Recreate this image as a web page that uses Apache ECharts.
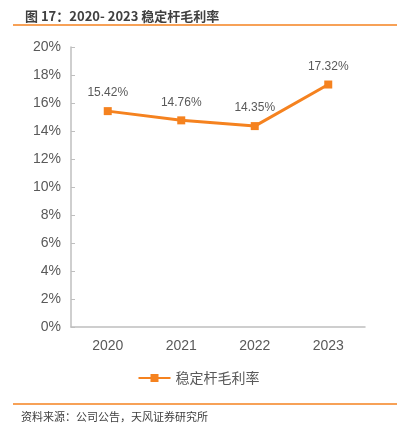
<!DOCTYPE html>
<html>
<head>
<meta charset="utf-8">
<script src="https://cdn.jsdelivr.net/npm/echarts@6/dist/echarts.min.js"></script>
<style>
  html, body { margin: 0; padding: 0; background: #fff; }
  #chart { width: 397px; height: 433px; }
</style>
</head>
<body>
<div id="chart"></div>
<script>
var years = ['2020', '2021', '2022', '2023'];
var grossMargin = [15.42, 14.76, 14.35, 17.32];
var seriesName = '稳定杆毛利率';

var chart = echarts.init(document.getElementById('chart'));

chart.setOption({
  animation: false,
  textStyle: {fontFamily: '"Liberation Sans", "Noto Sans CJK SC", sans-serif'},
  title: {
    text: '图 17：2020- 2023 稳定杆毛利率',
    left: 20,
    top: 5,
    textStyle: {fontSize: 13, fontWeight: 'bold', color: '#404040', fontFamily: '"Noto Sans CJK SC", sans-serif'}
  },
  legend: {
    data: [seriesName],
    bottom: 43,
    left: 'center',
    itemWidth: 32,
    itemHeight: 10,
    textStyle: {fontSize: 14, color: '#595959', fontFamily: '"Noto Sans CJK SC", sans-serif'}
  },
  grid: {
    left: 71,
    right: 32,
    top: 47,
    bottom: 106
  },
  xAxis: {
    type: 'category',
    data: years,
    boundaryGap: true,
    axisLine: {lineStyle: {color: '#bfbfbf', width: 1.5}},
    axisTick: {inside: true, length: 4, lineStyle: {color: '#bfbfbf'}},
    axisLabel: {fontSize: 14, color: '#595959', margin: 12}
  },
  yAxis: {
    type: 'value',
    min: 0,
    max: 20,
    interval: 2,
    axisLine: {show: true, lineStyle: {color: '#bfbfbf', width: 1.5}},
    axisTick: {show: true, inside: true, length: 4, lineStyle: {color: '#bfbfbf'}},
    axisLabel: {fontSize: 14, color: '#595959', margin: 10, formatter: '{value}%'},
    splitLine: {show: false}
  },
  series: [
    {
      name: seriesName,
      type: 'line',
      data: grossMargin,
      symbol: 'rect',
      symbolSize: 8,
      lineStyle: {color: '#f5821f', width: 3},
      itemStyle: {color: '#f5821f'},
      label: {
        show: true,
        position: 'top',
        distance: 8,
        fontSize: 12,
        color: '#595959',
        formatter: function(p) { return p.value.toFixed(2) + '%'; }
      }
    }
  ],
  graphic: [
    {type: 'line', shape: {x1: 13, y1: 25, x2: 397, y2: 25}, style: {stroke: '#f5821f', lineWidth: 1.5}, silent: true},
    {type: 'line', shape: {x1: 13, y1: 404, x2: 397, y2: 404}, style: {stroke: '#f5821f', lineWidth: 1.5}, silent: true},
    {
      type: 'text',
      left: 21,
      top: 411,
      style: {text: '资料来源：公司公告，天风证券研究所', fontSize: 11, fill: '#404040', fontFamily: '"Noto Sans CJK SC", sans-serif'},
      silent: true
    }
  ]
});
</script>
</body>
</html>
